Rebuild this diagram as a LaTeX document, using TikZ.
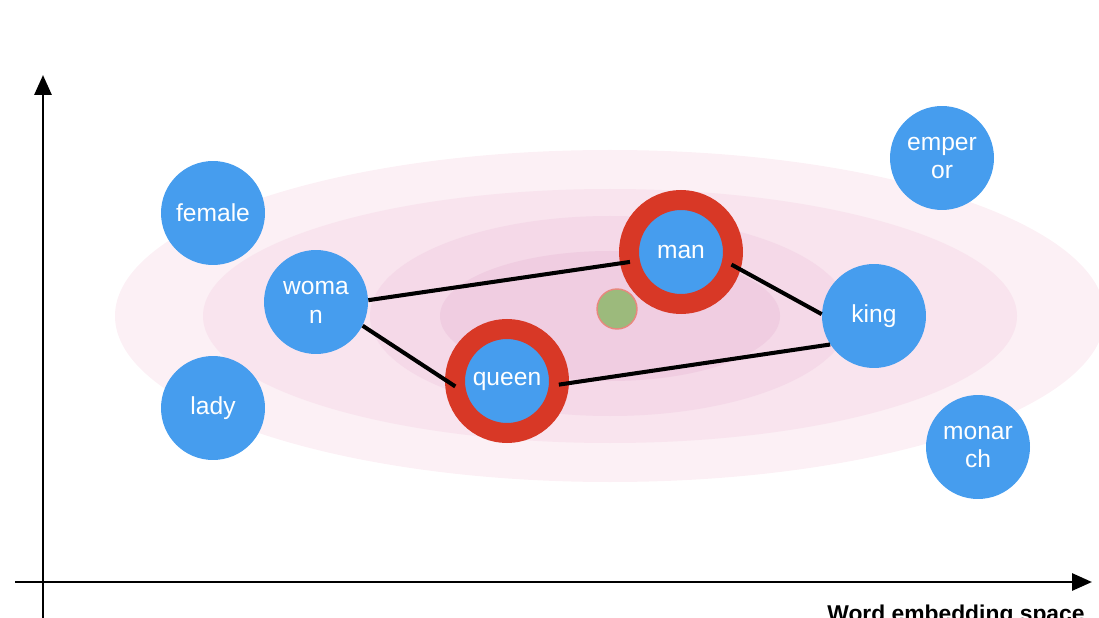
\documentclass[tikz,border=0pt]{standalone}
\usepackage{fontspec}
\setmainfont{Liberation Sans}
\usetikzlibrary{arrows.meta}
\definecolor{wortblau}{RGB}{70,157,238}
\definecolor{ringrot}{RGB}{216,56,38}
\definecolor{mittegruen}{RGB}{156,186,124}
\definecolor{wolke1}{RGB}{252,240,245}
\definecolor{wolke2}{RGB}{249,228,238}
\definecolor{wolke3}{RGB}{245,217,232}
\definecolor{wolke4}{RGB}{240,205,225}
\tikzset{
  wort/.style={circle, fill=wortblau, text=white, minimum size=2.08cm, inner sep=0pt,
    align=center, font=\fontsize{14}{16.5}\selectfont},
  treffer/.style={wort, draw=ringrot, line width=0.4cm, outer sep=0pt},
  kante/.style={line width=2.3pt, black},
  achse/.style={line width=1.7pt, -{Triangle[length=0.4cm,width=0.34cm]}}
}
\begin{document}
\begin{tikzpicture}[x=0.02cm, y=-0.02cm]
  \useasboundingbox (0,0) rectangle (1099,618);
  % Wolken
  \foreach \rx/\ry/\farbe in {495/166/wolke1, 407/127/wolke2, 240/100/wolke3, 170/65/wolke4} {
    \fill[\farbe] (610,316) ellipse [x radius=\rx, y radius=\ry];
  }
  % Achsen
  \draw[achse] (43,625) -- (43,75);
  \draw[achse] (15,582) -- (1092,582);
  \node[anchor=base west, inner sep=0pt, font=\bfseries\fontsize{13}{15}\selectfont] (titel) at (827,621) {Word embedding space};
  % Woerter
  \node[wort] (female) at (213,213) {female};
  \node[wort] (lady) at (213,408) {lady};
  \node[wort] (woman) at (316,302) {woma\\n};
  \node[wort] (king) at (874,316) {king};
  \node[wort] (emperor) at (942,158) {emper\\or};
  \node[wort] (monarch) at (978,447) {monar\\ch};
  \node[treffer] (queen) at (507,381) {queen};
  \node[treffer] (man) at (681,252) {man};
  \node[circle, fill=mittegruen, draw=ringrot!60, line width=0.8pt, minimum size=0.8cm] (mitte) at (617,309) {};
  % Kanten
  \draw[kante] (woman.2) -- (man.191);
  \draw[kante] (woman.-27) -- (queen.186);
  \draw[kante] (queen.-4) -- (king.213);
  \draw[kante] (man.-14) -- (king.178);
\end{tikzpicture}
\end{document}
